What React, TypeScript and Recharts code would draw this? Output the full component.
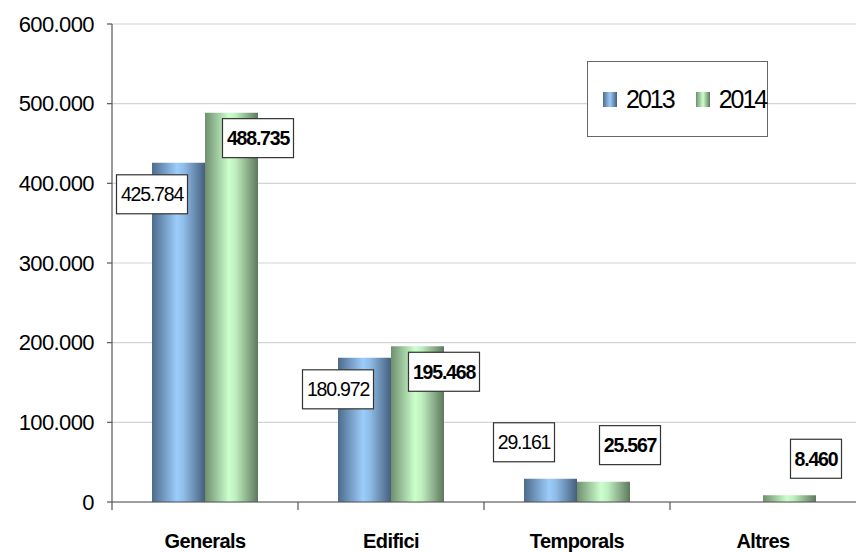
import React from 'react';
import { BarChart, Bar, XAxis, YAxis, CartesianGrid, LabelList, Legend } from 'recharts';

const categories = ['Generals', 'Edifici', 'Temporals', 'Altres'];
const values2013: (number | null)[] = [425784, 180972, 29161, null];
const values2014: (number | null)[] = [488735, 195468, 25567, 8460];
const seriesNames = ['2013', '2014'];
const yTicks = [0, 100000, 200000, 300000, 400000, 500000, 600000];

const data = categories.map((c, i) => ({ name: c, v2013: values2013[i], v2014: values2014[i] }));

const W = 857;
const H = 552;
const Y_AXIS_W = 112;
const M_RIGHT = 1;
const BAND = (W - Y_AXIS_W - M_RIGHT) / categories.length;
const FONT = '"Liberation Sans", Arial, sans-serif';

const fmt = (v: number) => String(v).replace(/\B(?=(\d{3})+(?!\d))/g, '.');

const textWidth = (s: string) => {
  let w = 0;
  for (const ch of s) w += ch === '.' ? 5 : 10;
  return w;
};

const BoxLabel = (p: any) => {
  const vb = p.viewBox || {};
  const x = p.x ?? vb.x;
  const y = p.y ?? vb.y;
  const width = p.width ?? vb.width;
  const height = p.height ?? vb.height;
  const value = p.value;
  if (value == null || x == null) return null;
  const s = fmt(value);
  const bw = textWidth(s) + 6;
  const bh = 39;
  const cx = p.series === 0 ? x : x + width;
  const tall = height > 60;
  const top = tall ? (p.series === 0 ? y + 12 : y + 6) : y - 17 - bh;
  return (
    <g>
      <rect x={cx - bw / 2} y={top} width={bw} height={bh} fill="#fff" stroke="#333" strokeWidth={1.2} />
      <text
        x={cx}
        y={top + bh / 2 + 7}
        textAnchor="middle"
        fontSize={19.5}
        fontWeight={p.series === 1 ? 'bold' : 'normal'}
        letterSpacing={-1.2}
        fill="#000"
        fontFamily={FONT}
      >
        {s}
      </text>
    </g>
  );
};

const XTick = (p: any) => {
  const { x, y, payload } = p;
  const bx = x - BAND / 2;
  return (
    <g>
      <line x1={bx} x2={bx} y1={y} y2={y + 8} stroke="#555" strokeWidth={1.2} />
      <text x={x} y={y + 46} textAnchor="middle" fontSize={20} fontWeight="bold" fill="#000" fontFamily={FONT} letterSpacing={-0.6}>
        {payload.value}
      </text>
    </g>
  );
};

const swatch = (id: number): React.CSSProperties => ({
  display: 'inline-block',
  width: 14,
  height: 15,
  background:
    id === 0
      ? 'linear-gradient(to right, #4d6b8c, #9cccfa 50%, #465e7c)'
      : 'linear-gradient(to right, #6f8f6f, #ccffcc 50%, #5e785e)',
});

const LegendBox = () => (
  <div
    style={{
      width: 181,
      height: 76,
      border: '1.5px solid #666',
      background: '#fff',
      boxSizing: 'border-box',
      display: 'flex',
      alignItems: 'center',
      paddingLeft: 15,
      fontFamily: FONT,
    }}
  >
    <span style={swatch(0)} />
    <span style={{ fontSize: 25, letterSpacing: -2, marginLeft: 9, color: '#000' }}>{seriesNames[0]}</span>
    <span style={{ ...swatch(1), marginLeft: 22 }} />
    <span style={{ fontSize: 25, letterSpacing: -2, marginLeft: 9, color: '#000' }}>{seriesNames[1]}</span>
  </div>
);

export default function App() {
  return (
    <div style={{ position: 'absolute', left: 0, top: 0, width: W, height: H, background: '#fff' }}>
      <BarChart
        width={W}
        height={H}
        data={data}
        margin={{ top: 24, right: M_RIGHT, bottom: 0, left: 0 }}
        barGap={0}
        style={{ fontFamily: FONT }}
      >
        <defs>
          <linearGradient id="g2013" x1="0" y1="0" x2="1" y2="0">
            <stop offset="0%" stopColor="#4d6b8c" />
            <stop offset="47%" stopColor="#9cccfa" />
            <stop offset="60%" stopColor="#8fbde9" />
            <stop offset="100%" stopColor="#465e7c" />
          </linearGradient>
          <linearGradient id="g2014" x1="0" y1="0" x2="1" y2="0">
            <stop offset="0%" stopColor="#6f8f6f" />
            <stop offset="45%" stopColor="#ccffcc" />
            <stop offset="58%" stopColor="#bfeebf" />
            <stop offset="100%" stopColor="#5e785e" />
          </linearGradient>
        </defs>
        <CartesianGrid vertical={false} stroke="#d4d4d4" strokeWidth={1.2} />
        <XAxis
          dataKey="name"
          height={50}
          axisLine={{ stroke: '#555', strokeWidth: 1.2 }}
          tickLine={false}
          tickSize={0}
          tickMargin={0}
          tick={<XTick />}
          interval={0}
        />
        <YAxis
          width={Y_AXIS_W}
          domain={[0, 600000]}
          ticks={yTicks}
          interval={0}
          tickFormatter={(v: number) => fmt(v)}
          axisLine={{ stroke: '#555', strokeWidth: 1.2 }}
          tickLine={{ stroke: '#555', strokeWidth: 1.2 }}
          tickSize={5}
          tickMargin={13}
          tick={{ fontSize: 22, fill: '#000', fontFamily: FONT, letterSpacing: -0.6 }}
        />
        <Legend
          layout="horizontal"
          verticalAlign="middle"
          align="center"
          wrapperStyle={{ left: 587, top: 61, width: 181, height: 76 }}
          content={() => <LegendBox />}
        />
        <Bar dataKey="v2013" name={seriesNames[0]} fill="url(#g2013)" barSize={53} isAnimationActive={false}>
          <LabelList dataKey="v2013" content={(p: any) => <BoxLabel {...p} series={0} />} />
        </Bar>
        <Bar dataKey="v2014" name={seriesNames[1]} fill="url(#g2014)" barSize={53} isAnimationActive={false}>
          <LabelList dataKey="v2014" content={(p: any) => <BoxLabel {...p} series={1} />} />
        </Bar>
      </BarChart>
    </div>
  );
}
